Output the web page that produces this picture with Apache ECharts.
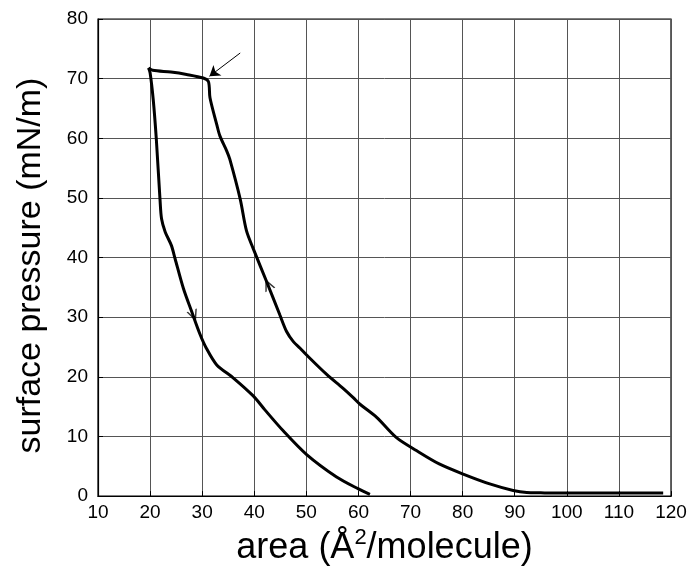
<!DOCTYPE html>
<html><head><meta charset="utf-8">
<script src="https://cdn.jsdelivr.net/npm/echarts@6/dist/echarts.min.js"></script>
<style>html,body{margin:0;padding:0;background:#fff}#c{width:691px;height:571px}</style>
</head><body><div id="c"></div>
<script>
// Compression branch (area decreasing)
const compX = [118.5,110,100,95,92.3,89.7,85.2,80.1,75.5,71.2,67.3,63.5,60.3,59,57,53.9,50,48.8,47.5,46.2,44.9,42.4,39.8,38.5,37.3,35.3,34.7,33.4,32.8,31.5,31.2,30.2,27,24,20.5,19.7];
const compY = [0.5,0.5,0.5,0.55,0.6,0.95,2.05,3.7,5.4,7.6,9.8,13.2,15.4,16.5,18.1,20.4,23.7,24.8,25.9,27.6,30.4,35.9,41.5,44.5,49.8,56.5,57.9,60.4,62.3,66.8,69.5,70.1,70.7,71.1,71.4,71.8];
// Expansion branch (area increasing)
const expX = [19.7,20,20.6,21.2,21.9,22.2,22.9,24.1,24.8,26.4,28,29.6,30.8,32.8,36,39.8,42,45.6,50,55.8,60,62.2];
const expY = [71.8,71,66.5,59.8,49.8,46.5,44.3,42,39.8,34.8,30.9,27.1,24.8,22,19.8,16.8,14.5,10.9,7,3.2,1.2,0.3];
// Direction markers on the curves [x, y, rotation]
const markers = [[42.6,35.5,25],[28.4,30.2,201]];
// Annotation arrow (tail -> head)
const annot = [[37.3,74.3],[31.4,70.4]];
const xTicks = {min:10, max:120, interval:10};
const yTicks = {min:0, max:80, interval:10};

const pts = (xs, ys) => xs.map((x,i)=>[x, ys[i]]);
const chart = echarts.init(document.getElementById('c'));
const font = 'Liberation Sans, Arial, sans-serif';
chart.setOption({
  animation:false,
  backgroundColor:'#fff',
  grid:{left:98, right:20, top:19, bottom:72, show:true, borderColor:'#000', borderWidth:1.2},
  xAxis:{type:'value', min:xTicks.min, max:xTicks.max, interval:xTicks.interval,
    name:'area (Å{sup|2}/molecule)', nameLocation:'middle', nameGap:22,
    nameTextStyle:{fontFamily:font, fontSize:36, color:'#000', verticalAlign:'top', rich:{sup:{fontFamily:font, fontSize:22, color:'#000', verticalAlign:'top', padding:[0,0,20,0]}}},
    axisLine:{show:true, onZero:false, lineStyle:{color:'#000', width:1.2}},
    axisTick:{show:true, inside:true, length:5, lineStyle:{color:'#000'}},
    axisLabel:{fontFamily:font, fontSize:19, color:'#000', margin:7},
    splitLine:{show:true, lineStyle:{color:'#555', width:1}}},
  yAxis:{type:'value', min:yTicks.min, max:yTicks.max, interval:yTicks.interval,
    name:'surface pressure (mN/m)', nameLocation:'middle', nameGap:50, nameRotate:90,
    nameTextStyle:{fontFamily:font, fontSize:34, color:'#000', padding:[0,16,0,0]},
    axisLine:{show:true, onZero:false, lineStyle:{color:'#000', width:1.2}},
    axisTick:{show:true, inside:true, length:5, lineStyle:{color:'#000'}},
    axisLabel:{fontFamily:font, fontSize:19, color:'#000', margin:10},
    splitLine:{show:true, lineStyle:{color:'#555', width:1}}},
  series:[
    {type:'line', data:pts(compX,compY), showSymbol:false, smooth:0.3, lineStyle:{color:'#000', width:3}},
    {type:'line', data:pts(expX,expY), showSymbol:false, smooth:0.3, lineStyle:{color:'#000', width:3}},
    {type:'scatter', data:markers.map(m=>({value:[m[0],m[1]], symbolRotate:m[2]})),
      symbol:'path://M0,10 L5,0 L10,10 L8.6,10 L5,3 L1.4,10 Z', symbolSize:[11,12],
      itemStyle:{color:'#000'}},
    {type:'lines', coordinateSystem:'cartesian2d', symbol:['none','arrow'], symbolSize:10,
      data:[{coords:annot}], lineStyle:{color:'#000', width:1, opacity:1}}
  ]
});
</script></body></html>
